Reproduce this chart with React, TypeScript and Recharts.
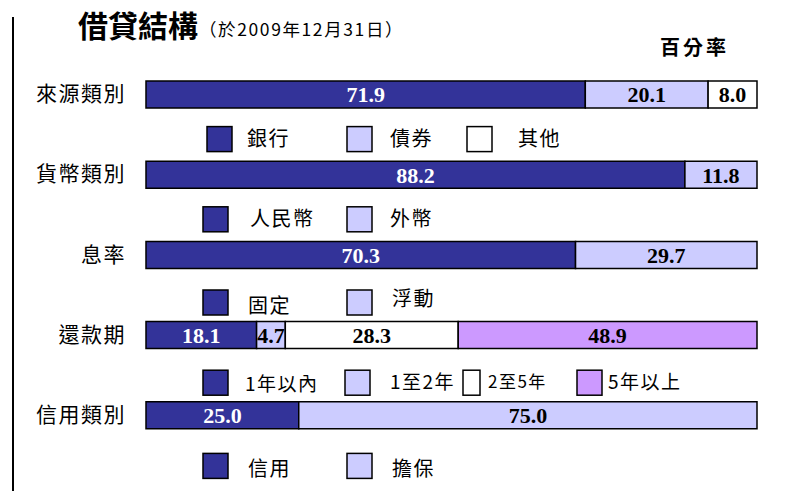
import React from "react";
import { BarChart, Bar, XAxis, YAxis, LabelList } from "recharts";

const categories = ["來源類別", "貨幣類別", "息率", "還款期", "信用類別"];
const firstPart = [71.9, 88.2, 70.3, 18.1, 25.0];
const secondPart = [20.1, 11.8, 29.7, 4.7, 75.0];
const thirdPart = [8.0, 0, 0, 28.3, 0];
const fourthPart = [0, 0, 0, 48.9, 0];

const legendNames = [
  ["銀行", "債券", "其他"],
  ["人民幣", "外幣"],
  ["固定", "浮動"],
  ["1年以內", "1至2年", "2至5年", "5年以上"],
  ["信用", "擔保"],
];

const COLORS = ["#333399", "#CCCCFF", "#FFFFFF", "#CC99FF"];
const LABEL_COLORS = ["#FFFFFF", "#000000", "#000000", "#000000"];

// legend layout per row: square x, square width, text x, font size, text dy
const legendLayout = [
  { dy: 45, items: [[207, 25, 247, 20, 0], [347, 25, 390, 20, 0], [467, 25, 518, 20, 0]] },
  { dy: 45, items: [[203, 25, 250, 20, 0], [347, 25, 390, 20, 0]] },
  { dy: 48, items: [[203, 25, 248, 20, 3], [347, 25, 392, 20, -4]] },
  {
    dy: 48,
    items: [
      [203, 25, 245, 19, 1],
      [345, 25, 390, 19, -1],
      [463, 17, 488, 17, -2],
      [577, 25, 608, 19, -1],
    ],
  },
  { dy: 51, items: [[203, 25, 248, 20, 3], [347, 25, 392, 20, 3]] },
];

const data = categories.map((name, i) => ({
  name,
  p1: firstPart[i],
  p2: secondPart[i],
  p3: thirdPart[i],
  p4: fourthPart[i],
}));

const CJK = "'Noto Sans CJK TC', 'Noto Sans', sans-serif";

const RowTick = (props: any) => {
  const { y, payload } = props;
  const idx = categories.indexOf(payload.value);
  const lay = legendLayout[idx];
  const names = legendNames[idx];
  return (
    <g>
      <text
        x={126}
        y={y}
        dy={7}
        textAnchor="end"
        fontSize={21}
        letterSpacing={1.5}
        fontFamily={CJK}
        fill="#000"
      >
        {payload.value}
      </text>
      {names.map((n, k) => {
        const [sx, sw, tx, fs, tdy] = lay.items[k];
        const cy = y + lay.dy;
        return (
          <g key={n}>
            <rect
              x={sx}
              y={cy - 12.5}
              width={sw}
              height={25}
              fill={COLORS[k]}
              stroke="#000"
              strokeWidth={1.5}
            />
            <text
              x={tx}
              y={cy + tdy}
              dy={7}
              fontSize={fs}
              letterSpacing={1.5}
              fontFamily={CJK}
              fill="#000"
            >
              {n}
            </text>
          </g>
        );
      })}
    </g>
  );
};

const fmt = (v: any) => (v ? Number(v).toFixed(1) : "");

const keys = ["p1", "p2", "p3", "p4"];

const App = () => {
  return (
    <div
      style={{
        position: "absolute",
        left: 0,
        top: 0,
        width: 791,
        height: 491,
        background: "#fff",
      }}
    >
      <BarChart
        width={791}
        height={491}
        data={data}
        layout="vertical"
        margin={{ top: 54, right: 34, bottom: 36, left: 0 }}
        barCategoryGap={0}
      >
        <XAxis type="number" domain={[0, 100]} hide />
        <YAxis
          type="category"
          dataKey="name"
          width={146}
          axisLine={false}
          tickLine={false}
          tick={<RowTick />}
          interval={0}
        />
        {keys.map((k, i) => (
          <Bar
            key={k}
            dataKey={k}
            stackId="a"
            fill={COLORS[i]}
            stroke="#000"
            strokeWidth={1.5}
            barSize={27}
            isAnimationActive={false}
          >
            <LabelList
              dataKey={k}
              position="center"
              formatter={fmt}
              fill={LABEL_COLORS[i]}
              fontSize={22}
              fontWeight="bold"
              fontFamily="'Liberation Serif', 'Times New Roman', serif"
            />
          </Bar>
        ))}
        <text
          x={78}
          y={37}
          fontSize={30}
          fontWeight="bold"
          fontFamily={CJK}
          fill="#000"
        >
          借貸結構
        </text>
        <text
          x={199}
          y={36}
          fontSize={17.5}
          letterSpacing={1.6}
          fontFamily={CJK}
          fill="#000"
        >
          （於2009年12月31日）
        </text>
        <text
          x={660}
          y={55}
          fontSize={20}
          fontWeight="bold"
          letterSpacing={3}
          fontFamily={CJK}
          fill="#000"
        >
          百分率
        </text>
        <line x1={13} y1={17} x2={13} y2={491} stroke="#000" strokeWidth={2} />
      </BarChart>
    </div>
  );
};

export default App;
